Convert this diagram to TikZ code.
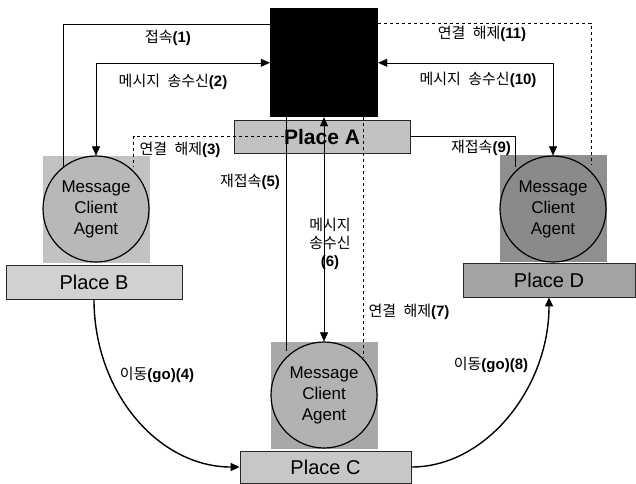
\documentclass[tikz,border=0pt]{standalone}
\usepackage{fontspec}
\setmainfont{Liberation Sans}
\newfontfamily\krfont[WordSpace=2.2]{Noto Sans CJK KR}
\usetikzlibrary{arrows.meta}
\definecolor{placeAfill}{gray}{0.76}
\definecolor{placeBfill}{gray}{0.82}
\definecolor{placeCfill}{gray}{0.78}
\definecolor{placeDfill}{gray}{0.64}
\definecolor{sqBfill}{gray}{0.76}
\definecolor{cirBfill}{gray}{0.72}
\definecolor{sqCfill}{gray}{0.66}
\definecolor{cirCfill}{gray}{0.70}
\definecolor{sqDfill}{gray}{0.56}
\definecolor{cirDfill}{gray}{0.54}
\begin{document}
\begin{tikzpicture}[x=1pt,y=-1pt,
	place/.style={draw=black!85,line width=0.8pt,minimum width=176pt,minimum height=34pt,inner sep=0pt,font=\fontsize{20}{24}\selectfont},
	agentbg/.style={minimum width=107pt,minimum height=107pt,inner sep=0pt},
	agent/.style={circle,draw,line width=1.2pt,minimum size=106pt,inner sep=0pt,align=center,font=\fontsize{17}{21}\selectfont},
	lbl/.style={inner sep=0pt,font=\fontsize{15}{18}\selectfont},
	move/.style={line width=1.4pt},
	>={Triangle[length=9pt,width=8pt]}]
				\useasboundingbox (0,0) rectangle (636,483);
				% server and places
				\node[fill=black,minimum width=108pt,minimum height=109pt,inner sep=0pt] (srv) at (324,62.5) {};
				\node[place,fill=placeAfill,minimum height=33pt,font=\bfseries\fontsize{21}{24}\selectfont] (placeA) at (322,136.5) {Place A};
				\node[agentbg,fill=sqBfill] (sqB) at (96.5,209) {};
				\node[agent,fill=cirBfill] (cirB) at (96,209) {Message\\Client\\Agent};
				\node[place,fill=placeBfill] (placeB) at (94,282) {Place B};
				\node[agentbg,fill=sqCfill] (sqC) at (324,395) {};
				\node[agent,fill=cirCfill] (cirC) at (324,395) {Message\\Client\\Agent};
				\node[place,fill=placeCfill,minimum width=171pt,minimum height=32pt] (placeC) at (325.5,467) {Place C};
				\node[agentbg,fill=sqDfill] (sqD) at (553,208.5) {};
				\node[agent,fill=cirDfill] (cirD) at (553,209) {Message\\Client\\Agent};
				\node[place,fill=placeDfill,minimum width=172pt] (placeD) at (549,280) {Place D};
				% connectors
				\draw (cirB.128) |- ([yshift=-16pt]srv.north west);
				\draw[<->] ([yshift=-55pt]srv.north west) -| (cirB.north);
				\draw[dashed] ([xshift=-38pt]placeA.center) -| ([xshift=37pt,yshift=-12pt]sqB.north);
				\draw[move,->] (placeB.south) .. controls +(0,93) and +(-81,0) .. (placeC.west);
				\draw ([xshift=-38pt]srv.south) -- ([xshift=-38pt,yshift=-10pt]sqC.north);
				\draw[<->] (srv.south) -- (cirC.north);
				\draw[dashed] ([xshift=39pt]srv.south) -- ([xshift=39pt,yshift=-16pt]sqC.north);
				\draw[move,->] (placeC.east) .. controls +(75,0) and +(0,90) .. (placeD.south);
				\draw (placeA.east) -| ([xshift=-38pt,yshift=-12pt]sqD.north);
				\draw[<->] ([yshift=-55pt]srv.north east) -| (cirD.north);
				\draw[dashed] ([yshift=-15pt]srv.north east) -| ([xshift=38pt,yshift=-10pt]sqD.north);
				% labels
				\node[lbl] (l1) at (168,38) {{\krfont 접속}\textbf{(1)}};
				\node[lbl] (l2) at (173,82) {{\krfont 메시지 송수신}\textbf{(2)}};
				\node[lbl] (l3) at (180,150) {{\krfont 연결 해제}\textbf{(3)}};
				\node[lbl] (l4) at (157,375) {{\krfont 이동}\textbf{(go)(4)}};
				\node[lbl] (l5) at (250,182) {{\krfont 재접속}\textbf{(5)}};
				\node[lbl,align=center] (l6) at (330,244) {{\krfont 메시지}\\{\krfont 송수신}\\\textbf{(6)}};
				\node[lbl] (l7) at (409,312) {{\krfont 연결 해제}\textbf{(7)}};
				\node[lbl] (l8) at (491,365) {{\krfont 이동}\textbf{(go)(8)}};
				\node[lbl] (l9) at (481,148) {{\krfont 재접속}\textbf{(9)}};
				\node[lbl] (l10) at (478,80) {{\krfont 메시지 송수신}\textbf{(10)}};
				\node[lbl] (l11) at (482,34) {{\krfont 연결 해제}\textbf{(11)}};
\end{tikzpicture}
\end{document}
